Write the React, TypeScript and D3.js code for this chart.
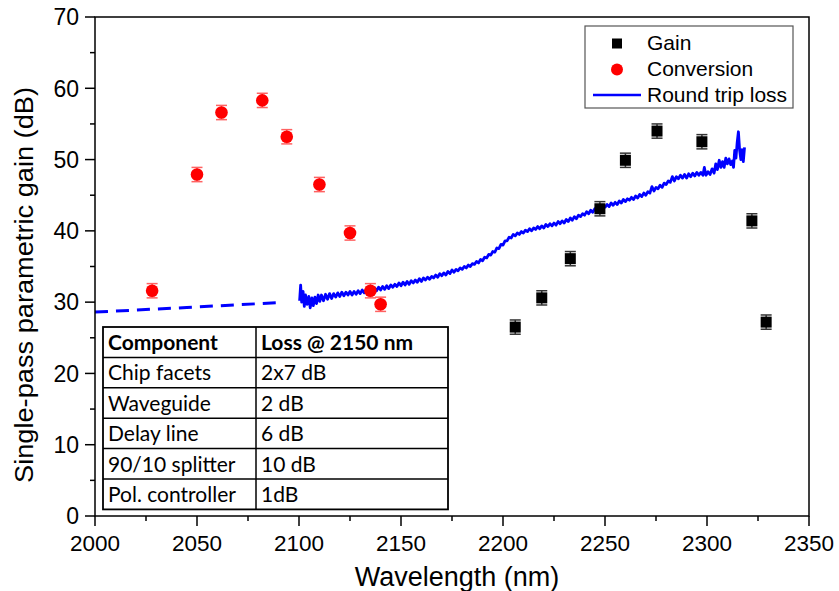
import { useRef, useEffect } from 'react';
import * as d3 from 'd3';

// conversion gain (red circles)
const convWl = [2028, 2050, 2062, 2082, 2094, 2110, 2125, 2135, 2140];
const convVal = [31.6, 47.9, 56.6, 58.3, 53.2, 46.5, 39.7, 31.6, 29.7];
const convErr = [1.0, 1.0, 1.0, 1.0, 1.0, 1.0, 1.0, 1.0, 1.0];

// parametric gain (black squares)
const gainWl = [2206, 2219, 2233, 2247.5, 2260, 2275.5, 2297.5, 2322, 2329];
const gainVal = [26.5, 30.6, 36.1, 43.1, 49.9, 54.0, 52.5, 41.4, 27.2];
const gainErr = [1.0, 1.0, 1.0, 1.0, 1.0, 1.0, 1.0, 1.0, 1.0];

// round trip loss, extrapolated part (dashed)
const lossExtrap: [number, number][] = [
  [2000, 28.6], [2045, 29.25], [2091, 29.95],
];

// round trip loss, measured (noisy trace)
const lossMeas: [number, number][] = [
  [2100.3, 30.2], [2100.8, 32.4], [2101.3, 30.0], [2102, 31.5], [2102.6, 29.4], [2103.2, 31.0],
  [2104, 29.7], [2104.8, 30.8], [2105.5, 29.2], [2106.3, 30.6], [2107, 29.5], [2107.8, 30.7],
  [2108.6, 29.8], [2109.4, 31.0], [2110.2, 30.1], [2111, 31.0], [2112, 30.2], [2113, 31.1],
  [2114, 30.4], [2115, 31.2], [2116, 30.5], [2117, 31.2], [2118, 30.7], [2119, 31.3],
  [2120, 30.8], [2121, 31.4], [2122, 30.9], [2123, 31.4], [2124, 31.0], [2125, 31.5],
  [2126, 31.0], [2127, 31.5], [2128, 31.1], [2129, 31.6], [2130, 31.2], [2131, 31.7],
  [2132, 31.3], [2133, 31.8], [2134, 31.4], [2135, 31.8], [2136, 31.5], [2137, 32.0],
  [2138, 31.6], [2139, 32.1], [2140, 31.7], [2141, 32.2], [2142, 31.8], [2143, 32.3],
  [2144, 31.9], [2145, 32.4], [2146, 32.1], [2147, 32.5], [2148, 32.2], [2149, 32.7],
  [2150, 32.3], [2151, 32.8], [2152, 32.4], [2153, 32.9], [2154, 32.5], [2155, 33.0],
  [2156, 32.7], [2157, 33.1], [2158, 32.8], [2159, 33.3], [2160, 32.9], [2161, 33.4],
  [2162, 33.1], [2163, 33.5], [2164, 33.2], [2165, 33.6], [2166, 33.4], [2167, 33.8],
  [2168, 33.5], [2169, 34.0], [2170, 33.7], [2171, 34.1], [2172, 33.8], [2173, 34.3],
  [2174, 34.0], [2175, 34.5], [2176, 34.2], [2177, 34.6], [2178, 34.4], [2179, 34.8],
  [2180, 34.6], [2181, 35.0], [2182, 34.8], [2183, 35.2], [2184, 35.0], [2185, 35.4],
  [2186, 35.3], [2187, 35.7], [2188, 35.5], [2189, 36.0], [2190, 35.8], [2191, 36.3],
  [2192, 36.2], [2193, 36.7], [2194, 36.6], [2195, 37.1], [2196, 37.0], [2197, 37.6],
  [2198, 37.5], [2199, 38.1], [2200, 38.0], [2201, 38.6], [2202, 38.6], [2203, 39.1],
  [2204, 39.0], [2205, 39.5], [2206, 39.3], [2207, 39.7], [2208, 39.5], [2209, 39.9],
  [2210, 39.7], [2211, 40.1], [2212, 39.9], [2213, 40.3], [2214, 40.0], [2215, 40.4],
  [2216, 40.2], [2217, 40.6], [2218, 40.3], [2219, 40.7], [2220, 40.4], [2221, 40.9],
  [2222, 40.6], [2223, 41.0], [2224, 40.7], [2225, 41.1], [2226, 40.8], [2227, 41.3],
  [2228, 41.0], [2229, 41.4], [2230, 41.1], [2231, 41.6], [2232, 41.3], [2233, 41.8],
  [2234, 41.5], [2235, 42.0], [2236, 41.7], [2237, 42.2], [2238, 42.0], [2239, 42.4],
  [2240, 42.2], [2241, 42.7], [2242, 42.4], [2243, 42.9], [2244, 42.6], [2245, 43.1],
  [2246, 42.9], [2247, 43.4], [2248, 43.1], [2249, 43.6], [2250, 43.3], [2251, 43.7],
  [2252, 43.4], [2253, 43.9], [2254, 43.6], [2255, 44.0], [2256, 43.7], [2257, 44.2],
  [2258, 43.9], [2259, 44.4], [2260, 44.1], [2261, 44.5], [2262, 44.3], [2263, 44.7],
  [2264, 44.4], [2265, 44.9], [2266, 44.6], [2267, 45.1], [2268, 44.8], [2269, 45.3],
  [2270, 45.0], [2271, 45.5], [2272, 45.3], [2273, 46.2], [2274, 45.6], [2275, 46.1],
  [2276, 45.9], [2277, 46.4], [2278, 46.1], [2279, 46.7], [2280, 46.5], [2281, 47.0],
  [2282, 46.8], [2283, 47.6], [2284, 47.0], [2285, 47.6], [2286, 47.3], [2287, 47.8],
  [2288, 47.4], [2289, 47.9], [2290, 47.4], [2291, 48.0], [2292, 47.6], [2293, 48.1],
  [2294, 47.7], [2295, 48.2], [2296, 47.8], [2297, 48.2], [2298, 47.8], [2298.7, 48.9],
  [2299.5, 47.8], [2300.5, 48.3], [2301.5, 47.9], [2302.5, 48.7], [2303.5, 48.1], [2304.3, 49.4],
  [2305.1, 48.6], [2306, 49.9], [2306.8, 48.9], [2307.6, 49.7], [2308.4, 48.9], [2309.2, 50.2],
  [2310, 49.4], [2310.8, 50.1], [2311.6, 49.3], [2312.4, 49.8], [2313, 48.9], [2313.6, 51.3],
  [2314.2, 50.2], [2314.8, 52.4], [2315.4, 53.9], [2316, 51.3], [2316.6, 50.0], [2317.2, 51.4],
  [2317.8, 49.7], [2318.4, 51.7],
];

const xTicks = [2000, 2050, 2100, 2150, 2200, 2250, 2300, 2350];
const yTicks = [0, 10, 20, 30, 40, 50, 60, 70];

const tableHead = ['Component', 'Loss @ 2150 nm'];
const tableComponents = ['Chip facets', 'Waveguide', 'Delay line', '90/10 splitter', 'Pol. controller'];
const tableLosses = ['2x7 dB', '2 dB', '6 dB', '10 dB', '1dB'];

const W = 839;
const H = 591;
const ARIAL = 'Arial, "Liberation Sans", Helvetica, sans-serif';

export default function App() {
  const ref = useRef<SVGSVGElement>(null);

  useEffect(() => {
    if (!ref.current) return;
    const svg = d3.select(ref.current);
    svg.selectAll('*').remove();

    const left = 95, right = 809, top = 17, bottom = 516;
    const x = d3.scaleLinear().domain([2000, 2350]).range([left, right]);
    const y = d3.scaleLinear().domain([0, 70]).range([bottom, top]);

    svg.append('rect').attr('width', W).attr('height', H).attr('fill', '#fff');

    // ticks
    const minorX = d3.range(2000, 2351, 25);
    const minorY = d3.range(0, 71, 5);
    svg.append('g').selectAll('line').data(minorX).join('line')
      .attr('x1', d => x(d)).attr('x2', d => x(d))
      .attr('y1', bottom).attr('y2', d => bottom + (d % 50 === 0 ? 10 : 5))
      .attr('stroke', '#000').attr('stroke-width', 1.5);
    svg.append('g').selectAll('line').data(minorY).join('line')
      .attr('y1', d => y(d)).attr('y2', d => y(d))
      .attr('x1', left).attr('x2', d => left - (d % 10 === 0 ? 10 : 5))
      .attr('stroke', '#000').attr('stroke-width', 1.5);

    svg.append('g').selectAll('text').data(xTicks).join('text')
      .attr('x', d => x(d)).attr('y', 551)
      .attr('text-anchor', 'middle')
      .attr('font-family', ARIAL).attr('font-size', 22.5)
      .text(d => d);
    svg.append('g').selectAll('text').data(yTicks).join('text')
      .attr('x', 79).attr('y', d => y(d)).attr('dy', '0.36em')
      .attr('text-anchor', 'end')
      .attr('font-family', ARIAL).attr('font-size', 23)
      .text(d => d);

    // axis titles
    svg.append('text')
      .attr('x', 457).attr('y', 586)
      .attr('text-anchor', 'middle')
      .attr('font-family', ARIAL).attr('font-size', 27)
      .text('Wavelength (nm)');
    svg.append('text')
      .attr('transform', 'translate(33,285) rotate(-90)')
      .attr('text-anchor', 'middle')
      .attr('font-family', ARIAL).attr('font-size', 26)
      .attr('textLength', 396).attr('lengthAdjust', 'spacingAndGlyphs')
      .text('Single-pass parametric gain (dB)');

    // loss lines
    const line = d3.line<[number, number]>().x(d => x(d[0])).y(d => y(d[1]));
    svg.append('path').datum(lossExtrap)
      .attr('d', line).attr('fill', 'none')
      .attr('stroke', '#0000ff').attr('stroke-width', 3)
      .attr('stroke-dasharray', '13,8');
    svg.append('path').datum(lossMeas)
      .attr('d', line).attr('fill', 'none')
      .attr('stroke', '#0000ff').attr('stroke-width', 2.8)
      .attr('stroke-linejoin', 'round');

    // error bars + markers
    const errBars = (wl: number[], val: number[], err: number[], color: string) => {
      const g = svg.append('g').attr('stroke', color).attr('stroke-width', 1.5);
      wl.forEach((w, i) => {
        const cx = x(w);
        const y1 = y(val[i] + err[i]);
        const y2 = y(val[i] - err[i]);
        g.append('line').attr('x1', cx).attr('x2', cx).attr('y1', y1).attr('y2', y2);
        g.append('line').attr('x1', cx - 5.5).attr('x2', cx + 5.5).attr('y1', y1).attr('y2', y1);
        g.append('line').attr('x1', cx - 5.5).attr('x2', cx + 5.5).attr('y1', y2).attr('y2', y2);
      });
    };
    errBars(convWl, convVal, convErr, '#ff6262');
    errBars(gainWl, gainVal, gainErr, '#333');

    svg.append('g').selectAll('circle').data(convWl).join('circle')
      .attr('cx', d => x(d)).attr('cy', (_, i) => y(convVal[i]))
      .attr('r', 6.3).attr('fill', '#ff0000');
    svg.append('g').selectAll('rect').data(gainWl).join('rect')
      .attr('x', d => x(d) - 5.5).attr('y', (_, i) => y(gainVal[i]) - 5.5)
      .attr('width', 11).attr('height', 11).attr('fill', '#000');

    // frame
    svg.append('rect')
      .attr('x', left).attr('y', top).attr('width', right - left).attr('height', bottom - top)
      .attr('fill', 'none').attr('stroke', '#000').attr('stroke-width', 1.5);

    // loss table
    const tx0 = 103, tx1 = 256, tx2 = 448, ty0 = 327, rowH = 30.4;
    const rows = [tableHead, ...tableComponents.map((c, i) => [c, tableLosses[i]])];
    const tbl = svg.append('g');
    tbl.append('rect')
      .attr('x', tx0).attr('y', ty0).attr('width', tx2 - tx0).attr('height', rowH * rows.length)
      .attr('fill', '#fff').attr('stroke', '#000').attr('stroke-width', 1.8);
    rows.forEach((r, i) => {
      if (i > 0) {
        tbl.append('line').attr('x1', tx0).attr('x2', tx2)
          .attr('y1', ty0 + i * rowH).attr('y2', ty0 + i * rowH)
          .attr('stroke', '#000').attr('stroke-width', 1.5);
      }
      [tx0 + 5, tx1 + 5].forEach((tx, j) => {
        tbl.append('text')
          .attr('x', tx).attr('y', ty0 + i * rowH + 23)
          .attr('font-family', 'Lato, "Open Sans", sans-serif')
          .attr('font-size', 21)
          .attr('font-weight', i === 0 ? 700 : 400)
          .text(r[j]);
      });
    });
    tbl.append('line').attr('x1', tx1).attr('x2', tx1)
      .attr('y1', ty0).attr('y2', ty0 + rowH * rows.length)
      .attr('stroke', '#000').attr('stroke-width', 1.5);

    // legend
    const lg = svg.append('g');
    lg.append('rect').attr('x', 585).attr('y', 26).attr('width', 208).attr('height', 82)
      .attr('fill', '#fff').attr('stroke', '#555').attr('stroke-width', 1.2);
    lg.append('rect').attr('x', 612).attr('y', 38.5).attr('width', 10).attr('height', 10).attr('fill', '#000');
    lg.append('circle').attr('cx', 617).attr('cy', 69.5).attr('r', 6).attr('fill', '#ff0000');
    lg.append('line').attr('x1', 593).attr('x2', 641).attr('y1', 95).attr('y2', 95)
      .attr('stroke', '#0000ff').attr('stroke-width', 2.5);
    ['Gain', 'Conversion', 'Round trip loss'].forEach((t, i) => {
      lg.append('text').attr('x', 647).attr('y', 50 + i * 25.8)
        .attr('font-family', ARIAL).attr('font-size', 21).text(t);
    });
  }, []);

  return (
    <svg ref={ref} width={W} height={H}
      style={{ position: 'absolute', left: 0, top: 0 }} />
  );
}
